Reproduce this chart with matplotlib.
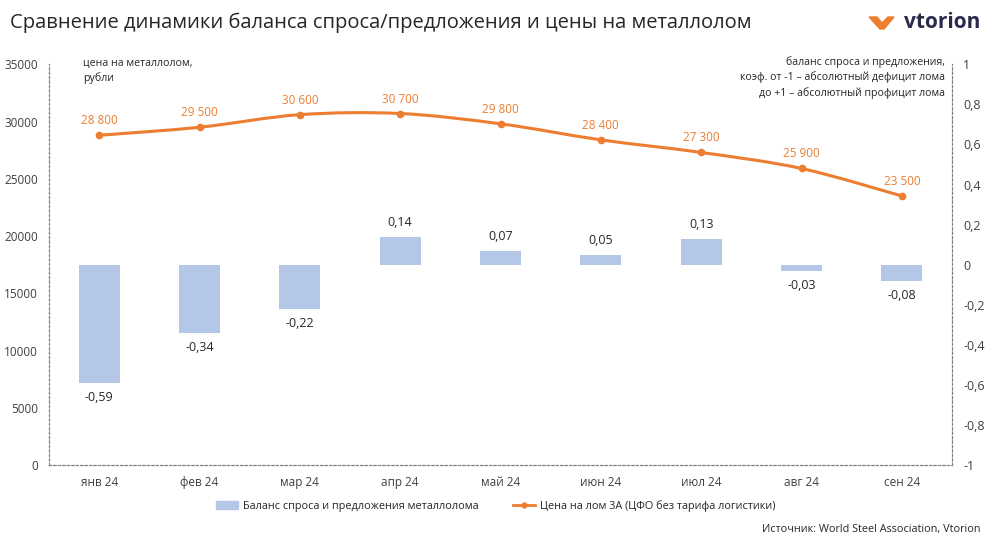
import numpy as np
import matplotlib.pyplot as plt
from matplotlib.path import Path
from matplotlib.patches import PathPatch, Polygon, Patch
from matplotlib.lines import Line2D

plt.rcParams['font.family'] = ['Open Sans', 'DejaVu Sans']

# данные
months = ['янв 24', 'фев 24', 'мар 24', 'апр 24', 'май 24', 'июн 24', 'июл 24', 'авг 24', 'сен 24']
balance = [-0.59, -0.34, -0.22, 0.14, 0.07, 0.05, 0.13, -0.03, -0.08]
price = [28800, 29500, 30600, 30700, 29800, 28400, 27300, 25900, 23500]
price_ticks = [0, 5000, 10000, 15000, 20000, 25000, 30000, 35000]
bal_ticks = [-1, -0.8, -0.6, -0.4, -0.2, 0, 0.2, 0.4, 0.6, 0.8, 1]

orange = '#ED7D31'
blue = '#B4C7E7'
txt = '#404040'

fig = plt.figure(figsize=(10, 5.43), dpi=100)
ax = fig.add_axes([0.049, 0.1436, 0.903, 0.738])
ax2 = ax.twinx()

x = np.arange(len(months))

# столбцы - правая ось
ax2.bar(x, balance, width=0.41, color=blue, zorder=1)
ax2.set_ylim(-1, 1)
ax2.set_yticks(bal_ticks)
ax2.set_yticklabels([('%g' % t).replace('.', ',') for t in bal_ticks], fontsize=9, color=txt)
for xi, v in zip(x, balance):
    off = 0.04 if v > 0 else -0.04
    ax2.text(xi, v + off, ('%.2f' % v).replace('.', ','), ha='center',
             va='bottom' if v > 0 else 'top', fontsize=9, color='#262626')

# линия цены - левая ось (сглаженная как в excel)
ax.set_zorder(ax2.get_zorder() + 1)
ax.patch.set_visible(False)
ax.set_xlim(-0.5, len(months) - 0.5)
ax.set_ylim(0, 35000)
pts = np.column_stack([x, price]).astype(float)
verts = [pts[0]]
codes = [Path.MOVETO]
for i in range(len(pts) - 1):
    p0 = pts[max(i - 1, 0)]
    p1 = pts[i]
    p2 = pts[i + 1]
    p3 = pts[min(i + 2, len(pts) - 1)]
    c1 = p1 + (p2 - p0) / 6
    c2 = p2 - (p3 - p1) / 6
    verts += [c1, c2, p2]
    codes += [Path.CURVE4] * 3
ax.add_patch(PathPatch(Path(verts, codes), fill=False, edgecolor=orange, lw=2.2, zorder=3))
ax.plot(x, price, 'o', color=orange, ms=4.5, zorder=4)
for xi, p in zip(x, price):
    ax.text(xi, p + 700, f'{p:,}'.replace(',', ' '), ha='center', va='bottom',
            fontsize=8.5, color=orange)

ax.set_yticks(price_ticks)
ax.set_yticklabels([str(t) for t in price_ticks], fontsize=8.5, color=txt)
ax.set_xticks(x)
ax.set_xticklabels(months, fontsize=8.5, color=txt)
ax.tick_params(length=0, pad=8)
ax2.tick_params(length=0, pad=8)
for a in (ax, ax2):
    a.spines['top'].set_visible(False)
    for s in ['left', 'right', 'bottom']:
        a.spines[s].set_linestyle((0, (2, 2)))
        a.spines[s].set_color('#7f7f7f')
        a.spines[s].set_linewidth(0.8)

ax.text(0.038, 1.017, 'цена на металлолом,\nрубли', transform=ax.transAxes,
        ha='left', va='top', fontsize=7.7, color='#262626', linespacing=1.4)
ax.text(0.992, 1.02, 'баланс спроса и предложения,\nкоэф. от -1 – абсолютный дефицит лома\nдо +1 – абсолютный профицит лома',
        transform=ax.transAxes, ha='right', va='top', fontsize=7.6, color='#262626', linespacing=1.4)

fig.text(0.01, 0.958, 'Сравнение динамики баланса спроса/предложения и цены на металлолом',
         fontsize=14.5, color='#262626', va='center', ha='left')

# логотип
fig.patches.append(Polygon([[0.869, 0.9687], [0.877, 0.9687], [0.882, 0.9576], [0.888, 0.9687],
                            [0.894, 0.9687], [0.884, 0.9466], [0.880, 0.9466]],
                           closed=True, transform=fig.transFigure, color=orange))
fig.text(0.904, 0.959, 'vtorion', fontsize=15, fontweight='bold', color='#2B2A4C',
         va='center', ha='left')

# легенда
handles = [Patch(color=blue, label='Баланс спроса и предложения металлолома'),
           Line2D([0], [0], color=orange, lw=2, marker='o', ms=3.5, label='Цена на лом 3А (ЦФО без тарифа логистики)')]
fig.legend(handles=handles, loc='center', bbox_to_anchor=(0.496, 0.068), ncol=2, frameon=False,
           fontsize=7.8, handlelength=2.0, handleheight=0.8, handletextpad=0.5,
           columnspacing=3.2, labelcolor='#262626')

fig.text(0.98, 0.025, 'Источник: World Steel Association, Vtorion', ha='right', va='center',
         fontsize=7.8, color='#262626')

fig.savefig('out.png', dpi=100)
